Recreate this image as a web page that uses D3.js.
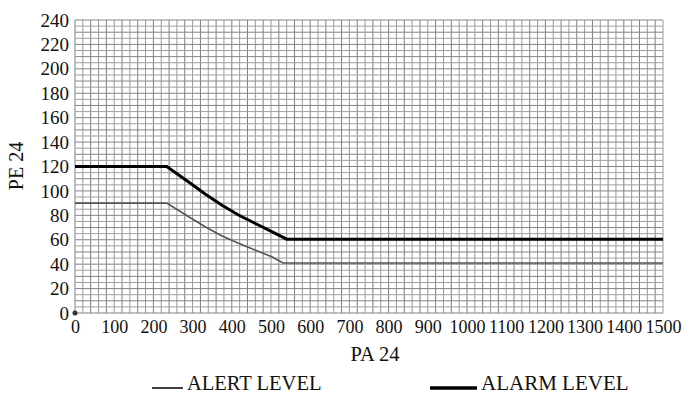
<!DOCTYPE html>
<html><head><meta charset="utf-8">
<script src="https://cdn.jsdelivr.net/npm/d3@7"></script>
<style>body{margin:0;background:#fff}svg{display:block}text{font-family:"Liberation Serif","Times New Roman",serif;fill:#111}</style>
</head><body>
<svg id="c" width="686" height="394"></svg>
<script>
const xTicks = [0,100,200,300,400,500,600,700,800,900,1000,1100,1200,1300,1400,1500];
const yTicks = [0,20,40,60,80,100,120,140,160,180,200,220,240];
const alarmX = [0,234,289,332,374,417,459,502,540,1500];
const alarmY = [120,120,107.5,97.5,88.5,80.3,73.5,66.6,60.5,60.5];
const alertX = [0,234,289,332,374,417,459,502,531,1500];
const alertY = [90,90,79,70.7,63.3,57.1,51.6,46.1,41,41];
const xLabel = "PA 24", yLabel = "PE 24";
const legendLabels = ["ALERT LEVEL","ALARM LEVEL"];

const FONT = '"Liberation Serif","Times New Roman",serif';
const svg = d3.select("#c");
const L=75,R=663,T=20,B=313;
const x = d3.scaleLinear().domain([0,1500]).range([L,R]);
const y = d3.scaleLinear().domain([0,240]).range([B,T]);

const g = svg.append("g");
g.selectAll(".vx").data(d3.range(0,1501,20)).join("line")
 .attr("x1",d=>x(d)).attr("x2",d=>x(d)).attr("y1",T).attr("y2",B)
 .attr("stroke",(d,i)=>i%2?"#9a9a9a":"#7e7e7e").attr("stroke-width",1);
g.selectAll(".hy").data(d3.range(0,241,5)).join("line")
 .attr("y1",d=>y(d)).attr("y2",d=>y(d)).attr("x1",L).attr("x2",R)
 .attr("stroke",(d,i)=>i%2?"#a0a0a0":"#858585").attr("stroke-width",1);

const xa = svg.append("g").attr("transform",`translate(0,${B})`)
 .call(d3.axisBottom(x).tickValues(xTicks).tickSize(0).tickPadding(7).tickFormat(d3.format("d")));
xa.attr("font-family",FONT).attr("font-size",18);
xa.select(".domain").remove();
xa.selectAll("text").attr("fill","#111");
const ya = svg.append("g").attr("transform",`translate(${L},0)`)
 .call(d3.axisLeft(y).tickValues(yTicks).tickSize(0).tickPadding(6).tickFormat(d3.format("d")));
ya.attr("font-family",FONT).attr("font-size",19);
ya.select(".domain").remove();
ya.selectAll("text").attr("fill","#111");

svg.append("circle").attr("cx",x(0)).attr("cy",y(0)).attr("r",2.5).attr("fill","#333");

const line = d3.line().x(d=>x(d[0])).y(d=>y(d[1]));
svg.append("path").datum(alertX.map((v,i)=>[v,alertY[i]])).attr("d",line)
 .attr("fill","none").attr("stroke","#555").attr("stroke-width",1.6);
svg.append("path").datum(alarmX.map((v,i)=>[v,alarmY[i]])).attr("d",line)
 .attr("fill","none").attr("stroke","#000").attr("stroke-width",3);

svg.append("text").attr("x",375).attr("y",361).attr("text-anchor","middle").style("font-size","20.5px").text(xLabel);
svg.append("text").attr("transform","translate(23,166) rotate(-90)").attr("text-anchor","middle").style("font-size","20px").text(yLabel);

svg.append("line").attr("x1",152).attr("x2",183).attr("y1",388).attr("y2",388).attr("stroke","#000").attr("stroke-width",1.5);
svg.append("text").attr("x",187).attr("y",390).style("font-size","20.5px").text(legendLabels[0]);
svg.append("line").attr("x1",430).attr("x2",477).attr("y1",388).attr("y2",388).attr("stroke","#000").attr("stroke-width",3.5);
svg.append("text").attr("x",481).attr("y",390).style("font-size","21px").text(legendLabels[1]);
</script>
</body></html>
